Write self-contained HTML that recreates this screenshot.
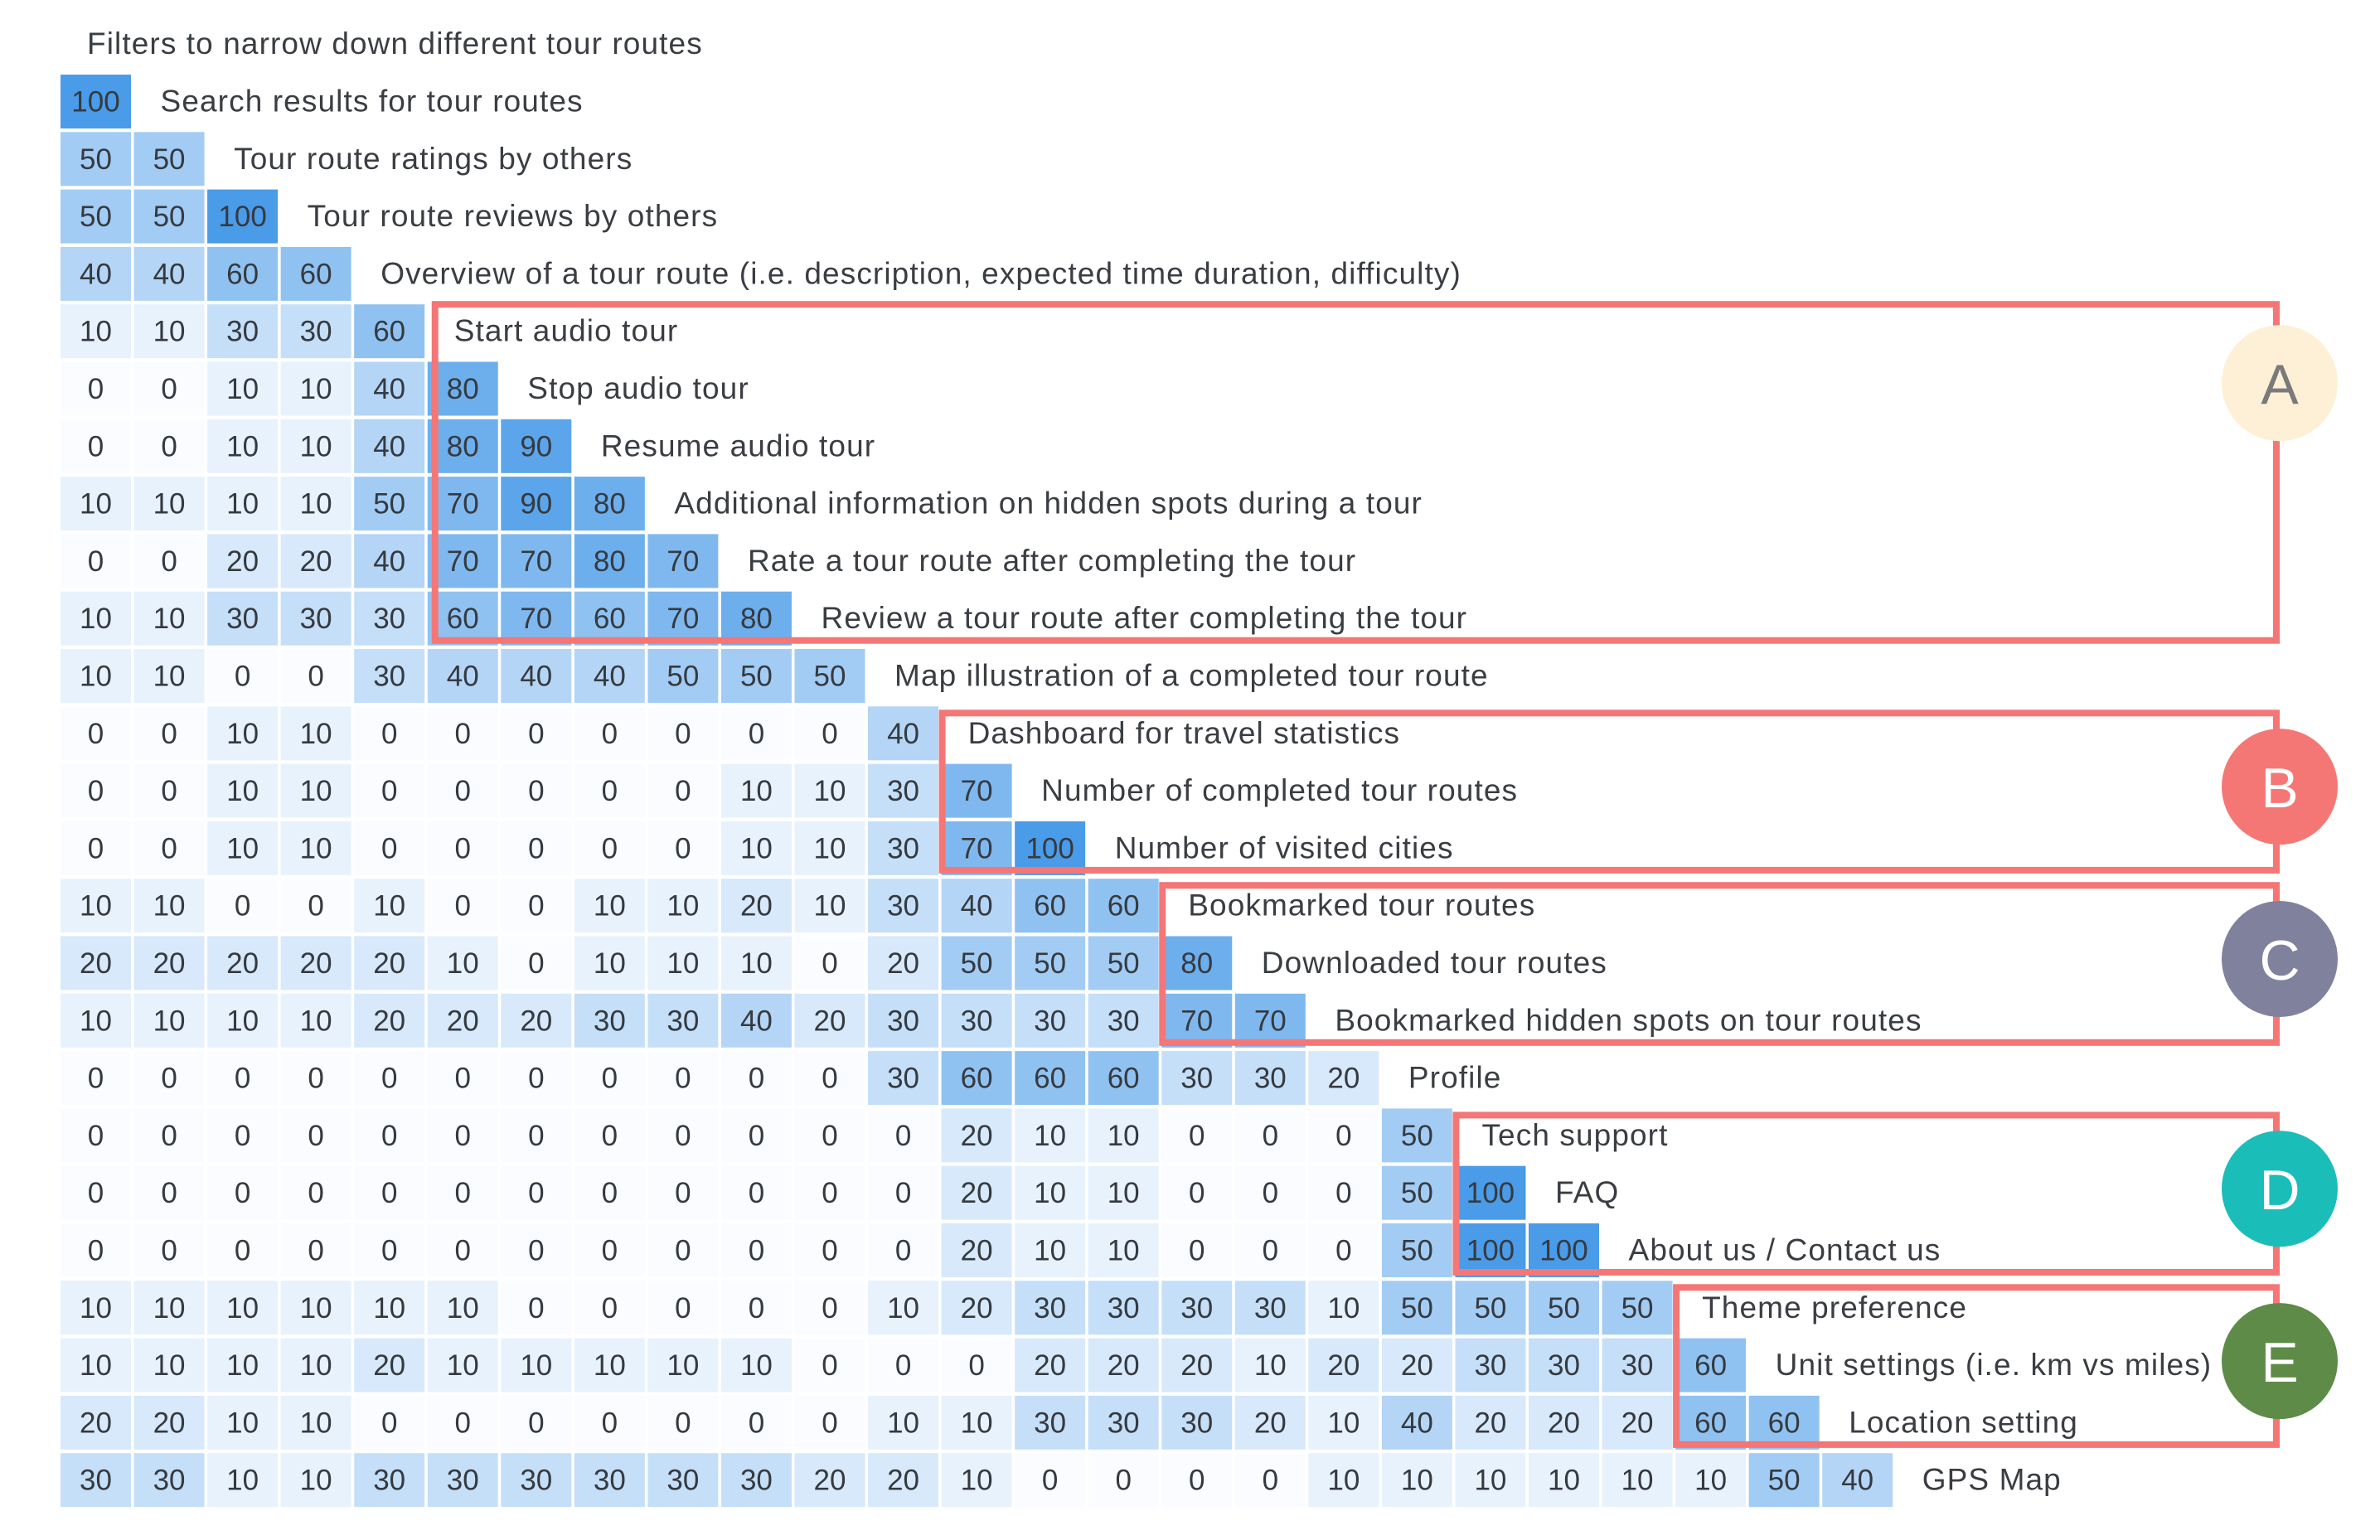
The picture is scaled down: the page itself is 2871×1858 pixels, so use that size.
<!DOCTYPE html>
<html><head><meta charset="utf-8">
<style>
html,body{margin:0;padding:0;background:#fff;}
svg{display:block;font-family:"Liberation Sans",sans-serif;}
</style></head>
<body>
<svg id="chart" width="2871" height="1858" viewBox="0 0 2871 1858" xmlns="http://www.w3.org/2000/svg">
<rect width="2871" height="1858" fill="#ffffff"/>
<g id="cells"></g>
<g id="labels"></g>
<g id="groups"></g>
</svg>
<script>
const categories = [
"Filters to narrow down different tour routes",
"Search results for tour routes",
"Tour route ratings by others",
"Tour route reviews by others",
"Overview of a tour route (i.e. description, expected time duration, difficulty)",
"Start audio tour",
"Stop audio tour",
"Resume audio tour",
"Additional information on hidden spots during a tour",
"Rate a tour route after completing the tour",
"Review a tour route after completing the tour",
"Map illustration of a completed tour route",
"Dashboard for travel statistics",
"Number of completed tour routes",
"Number of visited cities",
"Bookmarked tour routes",
"Downloaded tour routes",
"Bookmarked hidden spots on tour routes",
"Profile",
"Tech support",
"FAQ",
"About us / Contact us",
"Theme preference",
"Unit settings (i.e. km vs miles)",
"Location setting",
"GPS Map"
];
const matrixValues = [
[],
[100],
[50,50],
[50,50,100],
[40,40,60,60],
[10,10,30,30,60],
[0,0,10,10,40,80],
[0,0,10,10,40,80,90],
[10,10,10,10,50,70,90,80],
[0,0,20,20,40,70,70,80,70],
[10,10,30,30,30,60,70,60,70,80],
[10,10,0,0,30,40,40,40,50,50,50],
[0,0,10,10,0,0,0,0,0,0,0,40],
[0,0,10,10,0,0,0,0,0,10,10,30,70],
[0,0,10,10,0,0,0,0,0,10,10,30,70,100],
[10,10,0,0,10,0,0,10,10,20,10,30,40,60,60],
[20,20,20,20,20,10,0,10,10,10,0,20,50,50,50,80],
[10,10,10,10,20,20,20,30,30,40,20,30,30,30,30,70,70],
[0,0,0,0,0,0,0,0,0,0,0,30,60,60,60,30,30,20],
[0,0,0,0,0,0,0,0,0,0,0,0,20,10,10,0,0,0,50],
[0,0,0,0,0,0,0,0,0,0,0,0,20,10,10,0,0,0,50,100],
[0,0,0,0,0,0,0,0,0,0,0,0,20,10,10,0,0,0,50,100,100],
[10,10,10,10,10,10,0,0,0,0,0,10,20,30,30,30,30,10,50,50,50,50],
[10,10,10,10,20,10,10,10,10,10,0,0,0,20,20,20,10,20,20,30,30,30,60],
[20,20,10,10,0,0,0,0,0,0,0,10,10,30,30,30,20,10,40,20,20,20,60,60],
[30,30,10,10,30,30,30,30,30,30,20,20,10,0,0,0,0,10,10,10,10,10,10,50,40]
];
const groupNames = ["A","B","C","D","E"];
const groupFirstRow = [5,12,15,19,22];
const groupLastRow = [10,14,17,21,24];

const NS = "http://www.w3.org/2000/svg";
const COL0 = 73, COLP = 88.55, CW = 85;
const ROW0 = 20.7, ROWP = 69.3, RH = 65;
const xCol = c => COL0 + c * COLP;
const yRow = r => ROW0 + r * ROWP;
const lo = [250,252,255], hi = [74,155,232];
function colorFor(v){
  const t = v/100;
  return "rgb(" + lo.map((a,i)=>Math.round(a+(hi[i]-a)*t)).join(",") + ")";
}
const cellsG = document.getElementById("cells");
const labelsG = document.getElementById("labels");
const groupsG = document.getElementById("groups");

matrixValues.forEach((row, r) => {
  row.forEach((v, c) => {
    const rect = document.createElementNS(NS, "rect");
    rect.setAttribute("x", xCol(c)); rect.setAttribute("y", yRow(r));
    rect.setAttribute("width", CW); rect.setAttribute("height", RH);
    rect.setAttribute("fill", colorFor(v));
    
    
    cellsG.appendChild(rect);
    const t = document.createElementNS(NS, "text");
    t.setAttribute("x", xCol(c) + CW/2); t.setAttribute("y", yRow(r) + RH/2 + 12);
    t.setAttribute("text-anchor", "middle"); t.setAttribute("font-size", "35");
    t.setAttribute("fill", "#353a40");
    t.textContent = v;
    
    
    cellsG.appendChild(t);
  });
  const lab = document.createElementNS(NS, "text");
  lab.setAttribute("x", xCol(row.length) + 32);
  lab.setAttribute("y", yRow(r) + RH/2 + 12);
  lab.setAttribute("font-size", "37");
  lab.setAttribute("letter-spacing", "1.1");
  lab.setAttribute("fill", "#3a3d42");
  lab.textContent = categories[r];
  
  
  labelsG.appendChild(lab);
});

const circleFill = ["#fdf0d6","#f57775","#80819c","#1bbdb8","#5e8b48"];
const letterFill = ["#7a7a7a","#ffffff","#ffffff","#ffffff","#ffffff"];
const RIGHT = 2746;
groupNames.forEach((g, i) => {
  const r0 = groupFirstRow[i], r1 = groupLastRow[i];
  const left = xCol(matrixValues[r0].length) + (i === 0 ? 9 : 1);
  const top = yRow(r0) + (i === 0 ? 0 : 8);
  const bottom = yRow(r1) + RH - 6;
  const box = document.createElementNS(NS, "rect");
  box.setAttribute("x", left);
  box.setAttribute("y", top);
  box.setAttribute("width", RIGHT - left);
  box.setAttribute("height", bottom - top);
  box.setAttribute("fill", "none");
  box.setAttribute("stroke", "#f47676");
  box.setAttribute("stroke-width", "8");
  
  
  groupsG.appendChild(box);
  const cy = i === 0 ? top + 95 : (top + bottom) / 2 - 6;
  const circ = document.createElementNS(NS, "circle");
  circ.setAttribute("cx", 2750); circ.setAttribute("cy", cy); circ.setAttribute("r", 70);
  circ.setAttribute("fill", circleFill[i]);
  
  
  groupsG.appendChild(circ);
  const lt = document.createElementNS(NS, "text");
  lt.setAttribute("x", 2750); lt.setAttribute("y", cy + 25);
  lt.setAttribute("text-anchor", "middle"); lt.setAttribute("font-size", "68");
  lt.setAttribute("fill", letterFill[i]);
  lt.textContent = g;
  
  
  groupsG.appendChild(lt);
});
</script>
</body></html>
